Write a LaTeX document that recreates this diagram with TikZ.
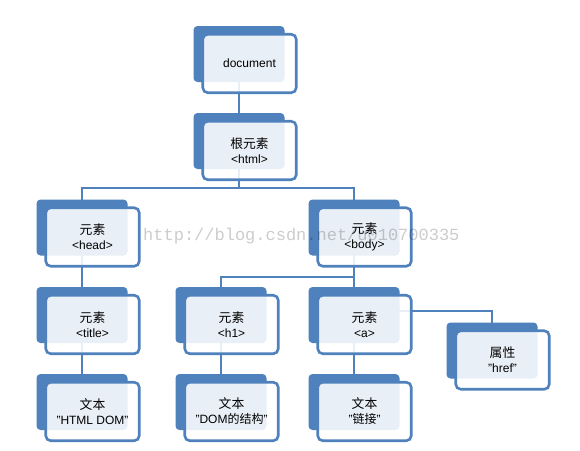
\documentclass[tikz,border=0pt]{standalone}
\usepackage{fontspec}
\usetikzlibrary{calc}
\setmainfont{Liberation Sans}
\newfontfamily\cjkf{Noto Sans CJK SC}
\newcommand{\cjk}{\cjkf\fontsize{12.8}{15}\selectfont}
\newfontfamily\wmfont{Liberation Mono}
\definecolor{ob}{RGB}{79,129,189}
\begin{document}
\begin{tikzpicture}[x=1pt,y=-1pt,
  backbox/.style={rectangle, rounded corners=4pt, fill=ob, minimum width=91pt, minimum height=56pt, inner sep=0pt},
  frontbox/.style={rectangle, rounded corners=5pt, draw=ob, line width=2.6pt, fill=white, fill opacity=0.88, text opacity=1, minimum width=93.5pt, minimum height=58.5pt, inner sep=0pt, align=center, font=\fontsize{12}{15}\selectfont},
  conn/.style={draw=ob, line width=2.8pt}
]
\useasboundingbox[fill=white] (0,0) rectangle (580,450);
% back boxes
\node[backbox] (doc-b)   at (239,54) {};
\node[backbox] (root-b)  at (239,141) {};
\node[backbox] (head-b)  at (82,227.5) {};
\node[backbox] (body-b)  at (354,227.5) {};
\node[backbox] (title-b) at (82,315) {};
\node[backbox] (h1-b)    at (221,315) {};
\node[backbox] (a-b)     at (354,315) {};
\node[backbox] (href-b)  at (492,350.5) {};
\node[backbox] (t1-b)    at (82,402) {};
\node[backbox] (t2-b)    at (221,402) {};
\node[backbox] (t3-b)    at (354,402) {};
% connectors
\coordinate (j1) at (239,188);
\coordinate (j2) at (354,277);
\coordinate (j3) at (492,311);
\draw[conn] (doc-b.center) -- (root-b.center);
\draw[conn] (root-b.center) -- (j1) -| (head-b.center);
\draw[conn] (j1) -| (body-b.center);
\draw[conn] (body-b.center) -- (a-b.center);
\draw[conn] (j2) -| (h1-b.center);
\draw[conn] (head-b.center) -- (title-b.center) -- (t1-b.center);
\draw[conn] (h1-b.center) -- (t2-b.center);
\draw[conn] (a-b.center) -- (t3-b.center);
\draw[conn] (a-b.center |- j3) -- (j3) -- (href-b.center);
% front boxes
\node[frontbox] (doc)   at ($(doc-b)+(10.5,9.5)$) {document};
\node[frontbox] (root)  at ($(root-b)+(10.5,9.5)$) {{\cjk 根元素}\\<html>};
\node[frontbox] (head)  at ($(head-b)+(10.5,9.5)$) {{\cjk 元素}\\<head>};
\node[frontbox] (body)  at ($(body-b)+(10.5,9.5)$) {{\cjk 元素}\\<body>};
\node[frontbox] (title) at ($(title-b)+(10.5,9.5)$) {{\cjk 元素}\\<title>};
\node[frontbox] (h1)    at ($(h1-b)+(10.5,9.5)$) {{\cjk 元素}\\<h1>};
\node[frontbox] (a)     at ($(a-b)+(10.5,9.5)$) {{\cjk 元素}\\<a>};
\node[frontbox] (href)  at ($(href-b)+(10.5,9.5)$) {{\cjk 属性}\\"href"};
\node[frontbox] (t1)    at ($(t1-b)+(10.5,9.5)$) {{\cjk 文本}\\"HTML DOM"};
\node[frontbox] (t2)    at ($(t2-b)+(10.5,9.5)$) {{\cjk 文本}\\"DOM{\cjkf 的结构}"};
\node[frontbox] (t3)    at ($(t3-b)+(10.5,9.5)$) {{\cjk 文本}\\"{\cjkf 链接}"};
% watermark
\node[anchor=west, inner sep=0pt, text=black, text opacity=0.2, font=\fontsize{17}{17}\selectfont\wmfont] (wm) at (143,236) {http://blog.csdn.net/u010700335};
\end{tikzpicture}
\end{document}
